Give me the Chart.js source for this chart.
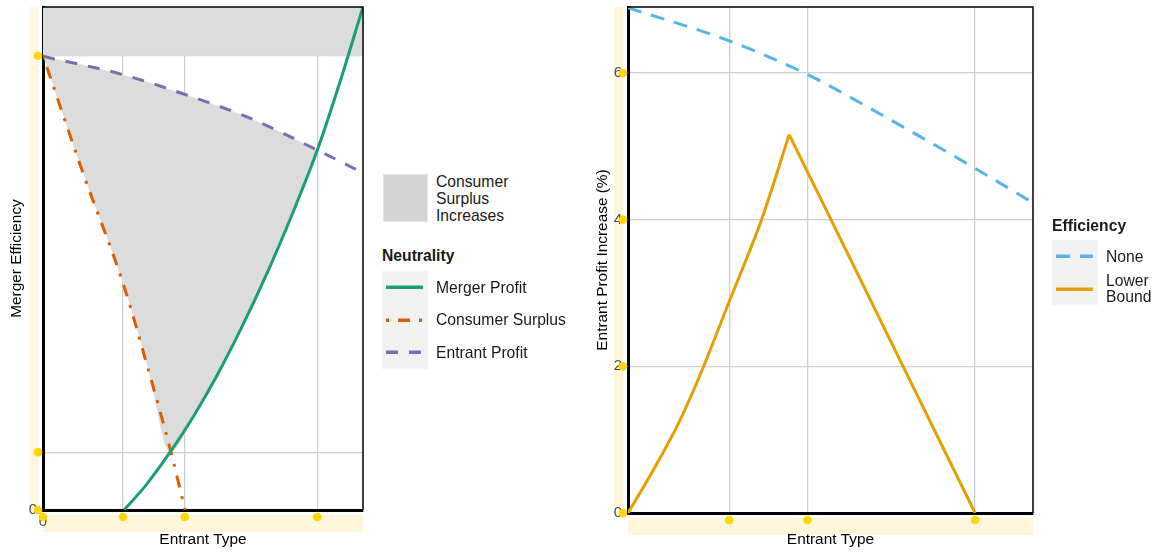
<!DOCTYPE html>
<html>
<head>
<meta charset="utf-8">
<script src="https://cdn.jsdelivr.net/npm/chart.js@4.4.1/dist/chart.umd.min.js"></script>
<style>
    body { margin: 0; background: #fff; width: 1160px; height: 553px; position: relative; overflow: hidden;
           font-family: "Liberation Sans", Arial, sans-serif; color: #1a1a1a; }
    canvas { position: absolute; top: 0; }
    #leftChart { left: 0; }
    #rightChart { left: 580px; }
    .lg { position: absolute; font-size: 15.7px; white-space: nowrap; }
</style>
</head>
<body>
<canvas id="leftChart" width="380" height="553"></canvas>
<canvas id="rightChart" width="580" height="553"></canvas>
<script>
// ---- left panel: neutrality curves (entrant type vs merger efficiency) ----
const leftXTicks = [0, 0.25, 0.443, 0.857];
const leftXLabels = ['0', '', '', ''];
const leftYTicks = [0, 0.115, 0.903];
const leftYLabels = ['0', '', ''];

const mergerX = [0.253, 0.32, 0.397, 0.47, 0.545, 0.62, 0.701, 0.78, 0.857, 0.93, 1.0];
const mergerY = [0, 0.048, 0.115, 0.186, 0.269, 0.362, 0.472, 0.59, 0.715, 0.855, 1.0];

const surplusX = [0, 0.125, 0.253, 0.33, 0.40, 0.444];
const surplusY = [0.903, 0.67, 0.445, 0.277, 0.115, 0];

const entrantX = [0, 0.253, 0.444, 0.647, 0.856, 1.0];
const entrantY = [0.902, 0.865, 0.826, 0.779, 0.716, 0.670];

const bandFloor = 0.903;   // efficiency above which surplus always rises
const kinkX = 0.397;       // merger profit meets consumer surplus line
const shadeEndX = 0.857;   // merger profit meets entrant profit curve

// ---- right panel: entrant profit increase (%) ----
const rightXTicks = [0.25, 0.443, 0.857];
const rightYTicks = [0, 2, 4, 6];
const rightYLabels = ['0', '2', '4', '6'];

const noneX = [0, 0.249, 0.443, 0.642, 0.857, 1.0];
const noneY = [6.89, 6.44, 5.98, 5.38, 4.70, 4.23];

// lower bound rises along a curve up to its peak, then falls straight to zero
const lowerX = [0, 0.064, 0.128, 0.183, 0.249, 0.331, 0.398, 0.857];
const lowerY = [0, 0.6, 1.26, 1.95, 2.87, 4.02, 5.16, 0];
const lowerPeak = 6;       // index of the peak point

const pts = (xs, ys) => xs.map((x, i) => ({x: x, y: ys[i]}));

const shadeEdge = pts(surplusX, surplusY).filter(p => p.x < kinkX)
    .concat(pts(mergerX, mergerY).filter(p => p.x >= kinkX && p.x <= shadeEndX));

const shadeGray = '#dcdcdc';

Chart.defaults.font.family = "'Liberation Sans', Arial, sans-serif";
Chart.defaults.animation = false;

// cream strips along the axes, yellow markers on tick positions, thin top/right frame
const axisDecor = {
    id: 'axisDecor',
    beforeDraw(chart) {
        const ctx = chart.ctx, a = chart.chartArea;
        ctx.save();
        ctx.fillStyle = '#fff6dc';
        ctx.fillRect(a.left - 14, a.top, 9, a.bottom - a.top + 2);
        ctx.fillRect(a.left, a.bottom + 5, a.right - a.left, 17);
        ctx.restore();
    },
    afterDraw(chart) {
        const ctx = chart.ctx, a = chart.chartArea, sx = chart.scales.x, sy = chart.scales.y;
        ctx.save();
        ctx.strokeStyle = '#000';
        ctx.lineWidth = 1.5;
        ctx.beginPath();
        ctx.moveTo(a.left, a.top);
        ctx.lineTo(a.right, a.top);
        ctx.lineTo(a.right, a.bottom);
        ctx.stroke();
        ctx.fillStyle = '#ffd700';
        const dot = (x, y) => { ctx.beginPath(); ctx.arc(x, y, 4.3, 0, Math.PI * 2); ctx.fill(); };
        sy.ticks.forEach(t => dot(a.left - 5, sy.getPixelForValue(t.value)));
        sx.ticks.forEach(t => dot(sx.getPixelForValue(t.value), a.bottom + 7));
        ctx.restore();
    }
};

function axes(o) {
    return {
        x: {
            type: 'linear', min: 0, max: 1,
            afterBuildTicks: ax => { ax.ticks = o.xTicks.map(v => ({value: v})); },
            afterFit: ax => { ax.height = o.xHeight; ax.paddingLeft = 0; ax.paddingRight = 0; },
            ticks: { callback: (v, i) => o.xLabels[i], color: '#4d4d4d', font: {size: 15}, padding: 3, autoSkip: false, maxRotation: 0 },
            grid: { color: '#cfcfcf', lineWidth: 1.3, drawTicks: false },
            border: { color: '#000', width: 3 },
            title: { display: true, text: 'Entrant Type', color: '#000', font: {size: 15.4}, padding: {top: 0, bottom: 4} }
        },
        y: {
            type: 'linear', min: 0, max: o.yMax,
            afterBuildTicks: ax => { ax.ticks = o.yTicks.map(v => ({value: v})); },
            afterFit: ax => { ax.width = o.yWidth; ax.paddingTop = 0; ax.paddingBottom = 0; },
            ticks: { callback: (v, i) => o.yLabels[i], color: '#4d4d4d', font: {size: 15}, padding: 6, autoSkip: false },
            grid: { color: '#cfcfcf', lineWidth: 1.3, drawTicks: false },
            border: { color: '#000', width: 3 },
            title: { display: true, text: o.yTitle, color: '#000', font: {size: 15.4}, padding: {top: o.yTitlePad, bottom: 0} }
        }
    };
}

const leftChart = new Chart(document.getElementById('leftChart'), {
    type: 'line',
    data: {
        datasets: [
            { label: 'Merger Profit', data: pts(mergerX, mergerY), borderColor: '#1b9e77', borderWidth: 3,
              cubicInterpolationMode: 'monotone', pointRadius: 0, fill: false, legendRow: true },
            { label: 'Consumer Surplus', data: pts(surplusX, surplusY), borderColor: '#d95f02', borderWidth: 3,
              borderDash: [3, 9, 12, 9], cubicInterpolationMode: 'monotone', pointRadius: 0, fill: false, legendRow: true },
            { label: 'Entrant Profit', data: pts(entrantX, entrantY), borderColor: '#7570b3', borderWidth: 3,
              borderDash: [12, 11], cubicInterpolationMode: 'monotone', pointRadius: 0, fill: false, legendRow: true },
            { label: 'Consumer Surplus Increases', data: shadeEdge, borderWidth: 0, backgroundColor: shadeGray,
              cubicInterpolationMode: 'monotone', pointRadius: 0, fill: 2 },
            { label: 'band', data: [{x: 0, y: bandFloor}, {x: 1, y: bandFloor}], borderWidth: 0,
              backgroundColor: shadeGray, pointRadius: 0, fill: 'end' }
        ]
    },
    options: {
        responsive: false,
        layout: { padding: {top: 7, right: 17, left: 0, bottom: 0} },
        plugins: { legend: {display: false}, tooltip: {enabled: false} },
        scales: axes({ xTicks: leftXTicks, xLabels: leftXLabels, yTicks: leftYTicks, yLabels: leftYLabels,
                       yMax: 1, xHeight: 43, yWidth: 43, yTitle: 'Merger Efficiency', yTitlePad: 8 })
    },
    plugins: [axisDecor]
});

const lowerPts = pts(lowerX, lowerY);

const rightChart = new Chart(document.getElementById('rightChart'), {
    type: 'line',
    data: {
        datasets: [
            { label: 'None', data: pts(noneX, noneY), borderColor: '#56b4e9', borderWidth: 3,
              borderDash: [14, 10], cubicInterpolationMode: 'monotone', pointRadius: 0, fill: false, legendRow: true },
            { label: 'Lower Bound', data: lowerPts.slice(0, lowerPeak + 1), borderColor: '#e69f00', borderWidth: 3,
              cubicInterpolationMode: 'monotone', pointRadius: 0, fill: false, legendRow: true },
            { label: 'Lower Bound', data: lowerPts.slice(lowerPeak), borderColor: '#e69f00', borderWidth: 3,
              tension: 0, pointRadius: 0, fill: false }
        ]
    },
    options: {
        responsive: false,
        layout: { padding: {top: 7, right: 127, left: 0, bottom: 0} },
        plugins: { legend: {display: false}, tooltip: {enabled: false} },
        scales: axes({ xTicks: rightXTicks, xLabels: ['', '', ''], yTicks: rightYTicks, yLabels: rightYLabels,
                       yMax: 6.9, xHeight: 40, yWidth: 48, yTitle: 'Entrant Profit Increase (%)', yTitlePad: 14 })
    },
    plugins: [axisDecor]
});

// ggplot-style legends built from the chart datasets
function addBox(html, css) {
    const el = document.createElement('div');
    el.className = 'lg';
    el.innerHTML = html;
    Object.assign(el.style, css);
    document.body.appendChild(el);
    return el;
}

function lineKey(ds, h) {
    const dash = (ds.borderDash || []).join(' ');
    return '<svg width="46" height="' + h + '"><line x1="4" y1="' + (h / 2) + '" x2="41" y2="' + (h / 2) +
        '" stroke="' + ds.borderColor + '" stroke-width="3.5" stroke-dasharray="' + dash + '"/></svg>';
}

function buildLegend(chart, cfg) {
    const rows = chart.data.datasets.filter(d => d.legendRow);
    addBox(cfg.title, { left: cfg.x + 'px', top: cfg.titleTop + 'px', fontWeight: 'bold', lineHeight: '17px' });
    addBox('', { left: cfg.x + 'px', top: cfg.keysTop + 'px', width: '46px', height: (rows.length * cfg.rowH) + 'px', background: '#f2f2f2' });
    rows.forEach((d, i) => {
        const top = cfg.keysTop + i * cfg.rowH;
        addBox(lineKey(d, cfg.rowH), { left: cfg.x + 'px', top: top + 'px', height: cfg.rowH + 'px', lineHeight: '0' });
        addBox(d.label, { left: (cfg.x + 54) + 'px', top: top + 'px', height: cfg.rowH + 'px', display: 'flex',
                          alignItems: 'center', whiteSpace: 'normal', width: cfg.labelW + 'px', lineHeight: cfg.lineH + 'px' });
    });
}

// fill key for the shaded region
const shadeSet = leftChart.data.datasets[3];
addBox('', { left: '383px', top: '174px', width: '43px', height: '46px', background: '#d4d4d4', border: '1px solid #e6e6e6' });
addBox(shadeSet.label, { left: '436px', top: '173px', width: '90px', whiteSpace: 'normal', lineHeight: '17px' });

buildLegend(leftChart, { title: 'Neutrality', x: 382, titleTop: 247, keysTop: 271, rowH: 32.5, labelW: 200, lineH: 17 });
buildLegend(rightChart, { title: 'Efficiency', x: 1052, titleTop: 217, keysTop: 240, rowH: 32.5, labelW: 56, lineH: 15.5 });
</script>
</body>
</html>
